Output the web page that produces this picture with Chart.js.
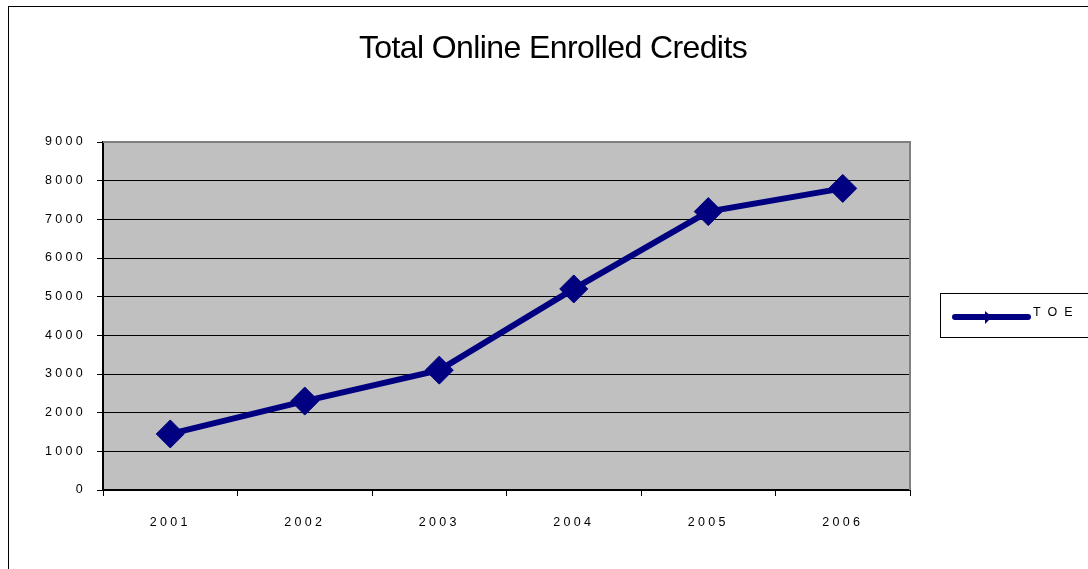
<!DOCTYPE html>
<html>
<head>
  <title>Total Online Enrolled Credits</title>
  <script src="https://cdn.jsdelivr.net/npm/chart.js"></script>
  <style>
    body { margin: 0; padding: 0; background: #fff; }
    #chart { display: block; }
  </style>
</head>
<body>
  <canvas id="chart" width="1088" height="569"></canvas>
  <script>
    // data
    const years = ["2001", "2002", "2003", "2004", "2005", "2006"];
    const toeValues = [1450, 2300, 3100, 5200, 7200, 7800];
    const seriesName = "TOE";
    const yTicks = [0, 1000, 2000, 3000, 4000, 5000, 6000, 7000, 8000, 9000];

    const navy = "#000080";
    const tickFont = { family: "'Liberation Sans', Arial, sans-serif", size: 12.5 };

    // plot background, outer frame and the legend box
    const excelLook = {
      id: "excelLook",
      beforeDraw(chart) {
        const ctx = chart.ctx;
        const a = chart.chartArea;
        ctx.save();
        ctx.letterSpacing = "0px";
        ctx.fillStyle = "#c0c0c0";
        ctx.fillRect(a.left, a.top, a.right - a.left, a.bottom - a.top);
        ctx.strokeStyle = "#000";
        ctx.lineWidth = 1;
        ctx.strokeRect(8.5, 6.5, 1200, 1000);
        ctx.restore();
        // title is drawn next, a bit condensed like the original
        ctx.letterSpacing = "-0.6px";
      },
      beforeDatasetsDraw(chart) {
        const ctx = chart.ctx;
        const a = chart.chartArea;
        ctx.save();
        ctx.strokeStyle = "#808080";
        ctx.lineWidth = 2;
        ctx.beginPath();
        ctx.moveTo(a.left, a.top);
        ctx.lineTo(a.right, a.top);
        ctx.lineTo(a.right, a.bottom);
        ctx.stroke();
        ctx.restore();
      },
      afterDatasetsDraw(chart) {
        // tick labels are drawn after this (ticks.z = 1), spaced out like the original
        chart.ctx.letterSpacing = "3.3px";
      },
      afterDraw(chart) {
        const ctx = chart.ctx;
        ctx.save();
        ctx.letterSpacing = "0px";
        ctx.fillStyle = "#fff";
        ctx.fillRect(940.5, 293.5, 200, 44);
        ctx.strokeStyle = "#000";
        ctx.lineWidth = 1;
        ctx.strokeRect(940.5, 293.5, 200, 44);
        ctx.strokeStyle = navy;
        ctx.lineWidth = 6;
        ctx.lineCap = "round";
        ctx.beginPath();
        ctx.moveTo(955, 317);
        ctx.lineTo(1028, 317);
        ctx.stroke();
        ctx.fillStyle = navy;
        ctx.beginPath();
        ctx.moveTo(985, 311);
        ctx.lineTo(992, 317);
        ctx.lineTo(985, 324);
        ctx.closePath();
        ctx.fill();
        ctx.letterSpacing = "7px";
        ctx.fillStyle = "#000";
        ctx.font = "12.5px 'Liberation Sans', Arial, sans-serif";
        ctx.textAlign = "left";
        ctx.textBaseline = "middle";
        ctx.fillText(seriesName, 1033, 313);
        ctx.restore();
        ctx.letterSpacing = "0px";
      }
    };

    new Chart(document.getElementById("chart"), {
      type: "line",
      data: {
        labels: years,
        datasets: [{
          label: seriesName,
          data: toeValues,
          borderColor: navy,
          backgroundColor: navy,
          borderWidth: 6,
          tension: 0,
          pointStyle: "rectRot",
          pointRadius: 14,
          pointHoverRadius: 14,
          pointBackgroundColor: navy,
          pointBorderColor: navy,
          pointBorderWidth: 1
        }]
      },
      options: {
        responsive: false,
        animation: false,
        events: [],
        layout: { padding: { left: 18, right: 0, top: 0, bottom: 0 } },
        plugins: {
          legend: { display: false },
          tooltip: { enabled: false },
          title: {
            display: true,
            text: "Total Online Enrolled Credits",
            color: "#000",
            font: { family: "'Liberation Sans', Arial, sans-serif", size: 32, weight: "normal" },
            padding: { top: 30, bottom: 73.6 }
          }
        },
        scales: {
          x: {
            offset: true,
            grid: {
              offset: true,
              drawOnChartArea: false,
              drawTicks: true,
              tickLength: 6,
              tickColor: "#000",
              tickWidth: 1
            },
            border: { display: true, color: "#000", width: 2 },
            ticks: { color: "#000", font: tickFont, padding: 19, maxRotation: 0, z: 1 },
            afterFit(scale) { scale.height = 79; }
          },
          y: {
            min: 0,
            max: 9000,
            afterBuildTicks(scale) { scale.ticks = yTicks.map(v => ({ value: v })); },
            grid: {
              color: "#000",
              lineWidth: 1,
              tickLength: 6,
              tickColor: "#000"
            },
            border: { display: true, color: "#000", width: 2 },
            ticks: {
              color: "#000",
              font: tickFont,
              padding: 11,
              z: 1,
              callback: (v) => String(v)
            },
            afterFit(scale) { scale.width = 85; }
          },
          y2: {
            position: "right",
            display: true,
            grid: { display: false, drawTicks: false },
            border: { display: false },
            ticks: { display: false },
            afterFit(scale) { scale.width = 178; }
          }
        }
      },
      plugins: [excelLook]
    });
  </script>
</body>
</html>
